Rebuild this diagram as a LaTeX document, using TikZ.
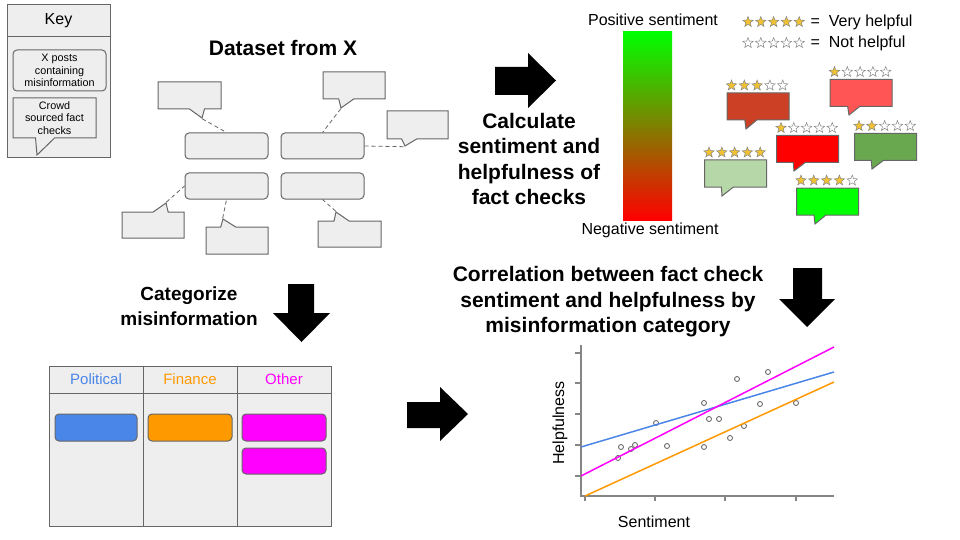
\documentclass[tikz,border=0pt]{standalone}
\usepackage{fontspec}
\setmainfont{Liberation Sans}
\usetikzlibrary{shapes.geometric,shapes.callouts,calc}
\definecolor{panel}{HTML}{EEEEEE}
\definecolor{edge}{HTML}{666666}
\definecolor{gold}{HTML}{F1C232}
\definecolor{polblue}{HTML}{4A86E8}
\definecolor{finorange}{HTML}{FF9900}
\definecolor{othpink}{HTML}{FF00FF}
\tikzset{
  >=latex,
}
\tikzstyle{post}=[draw=edge,fill=panel,rounded corners=4pt,minimum width=83pt,minimum height=26pt,inner sep=0pt,line width=1pt]
\tikzstyle{check}=[rectangle callout,draw=edge,fill=panel,minimum width=62pt,minimum height=27pt,inner sep=0pt,callout pointer width=15pt,line width=1pt]
\tikzstyle{note}=[rectangle callout,draw=edge,minimum width=62pt,minimum height=27pt,inner sep=0pt,callout pointer width=12pt,line width=1pt]
\tikzstyle{link}=[draw=edge,dash pattern=on 4pt off 3pt,line width=0.8pt]
\tikzstyle{heading}=[font=\fontsize{21}{25.5}\selectfont\bfseries,align=center]
\tikzstyle{rate}=[star,star points=5,star point ratio=2.4,minimum size=11pt,inner sep=0pt,draw=edge!80,line width=0.5pt]
\tikzstyle{bar}=[draw=edge,rounded corners=4pt,minimum height=27pt,inner sep=0pt,line width=1pt]
\tikzstyle{axis}=[draw=edge!80,line width=1.2pt]
\tikzstyle{fit}=[line width=1.5pt]

% five stars, #2 of them filled
\newcommand{\starrow}[2]{%
  \foreach \i in {0,...,4}{%
    \ifnum\i<#2\relax\def\sfill{gold}\else\def\sfill{white}\fi
    \path (#1) ++(\i*12.8,0) node[rate,fill=\sfill] {};
  }%
}

\begin{document}
\begin{tikzpicture}[x=1pt,y=-1pt,font=\fontsize{16}{19}\selectfont]
  \useasboundingbox[fill=white] (0,0) rectangle (960,540);

  % key
  \node[draw=edge,fill=panel,minimum width=103pt,minimum height=153pt,inner sep=0pt] (key) at (58.5,80.5) {};
  \draw[edge] (7,36) -- (110,36);
  \node (keytitle) at (58.5,21) {Key};
  \node[post,minimum width=93pt,minimum height=41pt,align=center,font=\fontsize{10.8}{12.5}\selectfont] (keypost) at (59.5,70.5) {X posts\\containing\\misinformation};
  \node[check,minimum width=83pt,minimum height=40pt,callout pointer width=19pt,callout absolute pointer={(37,155)},align=center,font=\fontsize{10.8}{12.5}\selectfont] (keycheck) at (54.5,118) {Crowd\\sourced fact\\checks};

  % dataset
  \node[heading] (data) at (283,48) {Dataset from X};
  \node[post] (b1) at (226.5,146) {};
  \node[post] (b2) at (322.5,146) {};
  \node[post] (b3) at (226.5,186) {};
  \node[post] (b4) at (322.5,186) {};
  \node[check,minimum width=63pt,callout absolute pointer={(202,118)}] (cA) at (189.5,95.5) {};
  \node[check,callout absolute pointer={(341,108)}] (cB) at (354,85.5) {};
  \node[check,minimum width=61pt,minimum height=28pt,callout absolute pointer={(405,146)}] (cC) at (417.5,125) {};
  \node[check,minimum height=26pt,callout absolute pointer={(166,203)}] (cD) at (153,225) {};
  \node[check,callout absolute pointer={(223,219)}] (cE) at (237,240.5) {};
  \node[check,minimum width=63pt,minimum height=26pt,callout absolute pointer={(336,212)}] (cF) at (349.5,234) {};
  \draw[link] (cA.pointer) -- (b1.north);
  \draw[link] (cB.pointer) -- (b2.north);
  \draw[link] (b2.east) -- (cC.pointer);
  \draw[link] (cD.pointer) -- (b3.west);
  \draw[link] (cE.pointer) -- (b3.south);
  \draw[link] (cF.pointer) -- (b4.south);

  % arrows
  \fill (495,67) -- (528,67) -- (528,53) -- (556,80.5) -- (528,108) -- (528,95) -- (495,95) -- cycle;
  \fill (288,284) -- (314,284) -- (314,313) -- (330,313) -- (301.5,342) -- (273,313) -- (288,313) -- cycle;
  \fill (407,402) -- (440,402) -- (440,387) -- (468,414) -- (440,441) -- (440,428) -- (407,428) -- cycle;
  \fill (793,268) -- (822,268) -- (822,299) -- (835,299) -- (807,327) -- (779,299) -- (793,299) -- cycle;

  % sentiment
  \node[heading] (calc) at (529,159) {Calculate\\sentiment and\\helpfulness of\\fact checks};
  \node[minimum width=49pt,minimum height=188pt,inner sep=0pt,top color=green,bottom color=red] (grad) at (647.5,126) {};
  \node (pos) at (653,20) {Positive sentiment};
  \node (neg) at (650,230) {Negative sentiment};
  \starrow{748,22}{5}
  \starrow{748,43}{0}
  \node[anchor=west] (vh) at (807,22) {=\hspace{9pt}Very helpful};
  \node[anchor=west] (nh) at (807,43) {=\hspace{9pt}Not helpful};

  \node[note,fill={rgb,255:red,204;green,65;blue,37},callout absolute pointer={(746,129)}] (n1) at (758,106.5) {};
  \node[note,fill={rgb,255:red,255;green,85;blue,85},callout absolute pointer={(849,115)}] (n2) at (861,93) {};
  \node[note,fill=red,callout absolute pointer={(794,171)}] (n3) at (807.5,149) {};
  \node[note,fill={rgb,255:red,106;green,168;blue,79},callout absolute pointer={(872,169)}] (n4) at (885.5,147) {};
  \node[note,fill={rgb,255:red,182;green,215;blue,168},callout absolute pointer={(722,196)}] (n5) at (735.5,173.5) {};
  \node[note,fill=green,callout absolute pointer={(815,224)}] (n6) at (827.5,201.5) {};
  \starrow{$(n1.north west)+(5,-7)$}{3}
  \starrow{$(n2.north west)+(5,-7)$}{1}
  \starrow{$(n3.north west)+(5,-7)$}{1}
  \starrow{$(n4.north west)+(5,-7)$}{2}
  \starrow{$(n5.north west)+(5,-7)$}{5}
  \starrow{$(n6.north west)+(5,-7)$}{4}

  % categories
  \node[heading,font=\fontsize{19}{25}\selectfont\bfseries] (cat) at (189,306) {Categorize\\misinformation};
  \node[draw=edge,fill=panel,line width=1pt,minimum width=282pt,minimum height=160pt,inner sep=0pt] (table) at (190,446) {};
  \draw[edge,line width=1pt] (49,393) -- (331,393);
  \draw[edge,line width=1pt] (143,366) -- (143,526);
  \draw[edge,line width=1pt] (237,366) -- (237,526);
  \node[text=polblue,font=\fontsize{15}{18}\selectfont] (pol) at (96,379) {Political};
  \node[text=finorange,font=\fontsize{15}{18}\selectfont] (fin) at (190,379) {Finance};
  \node[text=othpink,font=\fontsize{15}{18}\selectfont] (oth) at (284,379) {Other};
  \node[bar,fill=polblue,minimum width=82pt] (polbar) at (96,427.5) {};
  \node[bar,fill=finorange,minimum width=84pt] (finbar) at (190,427.5) {};
  \node[bar,fill=othpink,minimum width=84pt] (othbar) at (284,427.5) {};
  \node[bar,fill=othpink,minimum width=84pt,minimum height=26pt] (othbarb) at (284,461) {};

  % correlation
  \node[heading] (corr) at (608,302) {Correlation between fact check\\sentiment and helpfulness by\\misinformation category};
  \draw[axis] (581,345) -- (581,496) -- (834,496);
  \foreach \y in {353,383,414,445,476} \draw[axis] (575,\y) -- (581,\y);
  \foreach \x in {585,655,725,796} \draw[axis] (\x,496) -- (\x,501);
  \foreach \p in {(618,458),(621,447),(631,449),(635,445),(656,423),(667,446),(704,403),(704,447),(709,419),(719,419),(730,438),(737,379),(744,426),(760,404),(768,372),(796,403)}
    \draw[edge!90!black,line width=0.8pt] \p circle (2.5pt);
  \draw[fit,polblue] (581,447) -- (834,372);
  \draw[fit,othpink] (581,476) -- (834,347);
  \draw[fit,finorange] (585,496) -- (834,382);
  \node[rotate=90] (helpful) at (560,423) {Helpfulness};
  \node (senti) at (654,522) {Sentiment};
\end{tikzpicture}
\end{document}
